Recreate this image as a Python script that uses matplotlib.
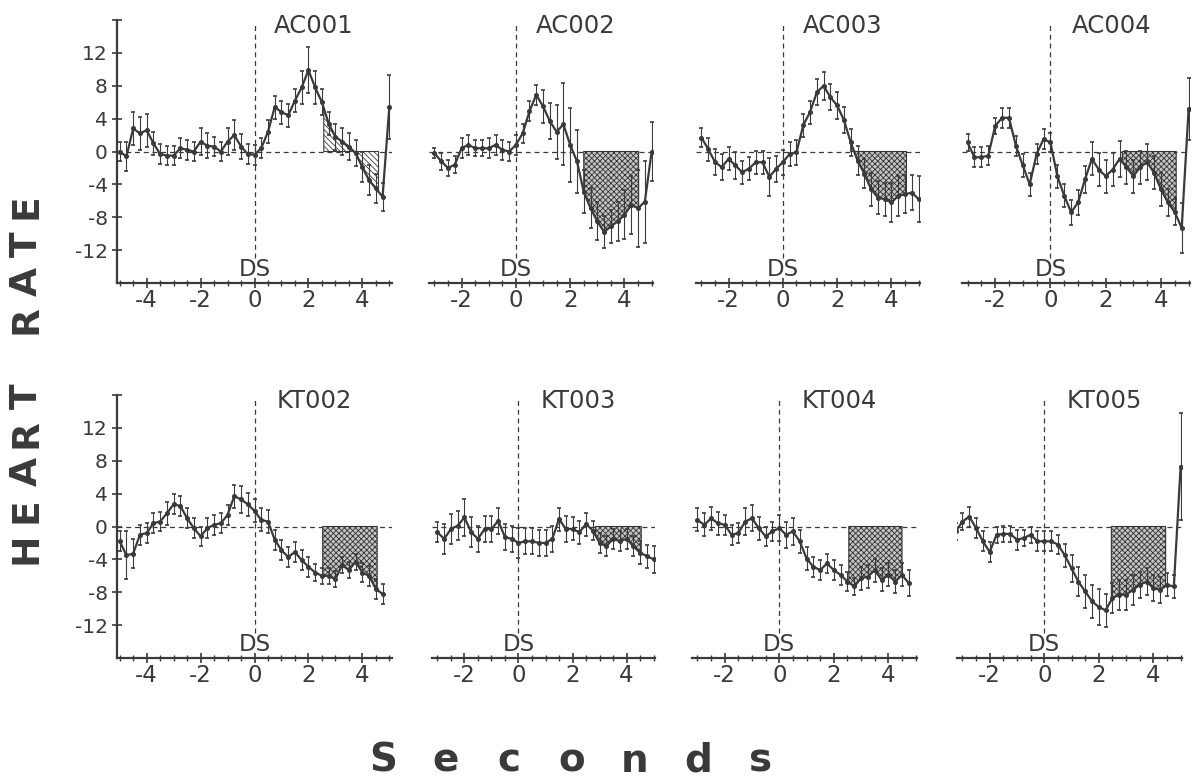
import numpy as np
import matplotlib
matplotlib.use('Agg')
from matplotlib import pyplot as plt
from matplotlib.ticker import MultipleLocator

plt.rcParams['font.family'] = ['DejaVu Sans']
plt.rcParams['hatch.linewidth'] = 0.6

ink = '#3a3a3a'

# panel names, first time point (s), 0.25 s sampling
names = ['AC001', 'AC002', 'AC003', 'AC004', 'KT002', 'KT003', 'KT004', 'KT005']
t_start = [-5.0, -3.0, -3.0, -3.0, -5.0, -3.0, -3.0, -3.25]
step = 0.25

# heart rate change (bpm)
hr_ac001 = [0.0, -0.6, 2.8, 2.2, 2.6, 1.0, -0.3, -0.5, -0.5, 0.4,
            0.2, 0.0, 1.2, 0.7, 0.6, 0.0, 1.2, 2.0, 0.6, -0.3,
            -0.4, 0.4, 2.4, 5.4, 4.8, 4.4, 6.2, 7.8, 9.9, 7.8,
            6.0, 3.4, 1.8, 1.2, 0.6, -0.2, -1.9, -3.5, -4.5, -5.5, 5.4]
hr_ac002 = [-0.2, -1.2, -2.0, -1.6, 0.4, 0.8, 0.4, 0.4, 0.4, 0.8,
            0.2, 0.0, 0.8, 2.2, 4.9, 6.9, 5.5, 3.7, 2.4, 3.3,
            0.8, -1.2, -4.9, -6.9, -8.5, -9.8, -9.1, -8.5, -7.7, -6.5,
            -6.9, -6.1, 0.0]
hr_ac003 = [1.7, 0.3, -1.3, -1.9, -0.9, -1.7, -2.5, -2.1, -1.3, -1.3,
            -3.1, -2.1, -1.3, -0.3, -0.1, 3.2, 4.8, 7.2, 8.0, 6.6,
            5.6, 3.8, 1.1, -1.1, -2.7, -4.6, -5.6, -5.8, -6.2, -5.4,
            -5.2, -5.0, -5.8]
hr_ac004 = [1.1, -0.7, -0.7, -0.5, 3.1, 4.1, 4.1, 0.7, -1.7, -4.0,
            -0.3, 1.5, 1.1, -3.0, -5.4, -7.4, -6.2, -3.4, -0.9, -2.2,
            -3.0, -2.2, -0.9, -1.9, -3.0, -1.9, -1.3, -2.6, -4.6, -6.2,
            -7.4, -9.3, 5.2]
hr_kt002 = [-1.8, -3.5, -3.3, -1.0, -0.8, 0.4, 0.6, 1.6, 2.7, 2.5,
            1.0, -0.2, -1.2, -0.2, 0.2, 0.4, 1.4, 3.7, 3.3, 2.7,
            1.9, 0.8, 0.6, -1.6, -2.9, -3.7, -3.1, -4.1, -4.9, -5.6,
            -6.0, -6.0, -6.4, -4.7, -5.3, -4.3, -5.6, -6.0, -7.6, -8.2]
hr_kt003 = [-0.7, -1.5, -0.3, 0.1, 1.1, -0.7, -1.5, -0.3, -0.3, 0.7,
            -1.3, -1.5, -2.0, -1.8, -1.8, -2.0, -2.0, -1.5, 0.9, -0.3,
            -0.3, -0.7, 0.3, -0.5, -2.0, -2.4, -1.5, -1.8, -1.5, -2.4,
            -3.2, -3.6, -4.0]
hr_kt004 = [0.8, 0.2, 1.0, 0.4, 0.2, -1.0, -0.8, 0.6, 1.0, -0.2,
            -1.2, -0.6, -0.2, -1.0, -0.6, -1.8, -3.9, -4.9, -5.3, -4.5,
            -5.3, -5.9, -6.7, -7.3, -6.3, -6.1, -5.3, -6.5, -5.9, -6.7,
            -5.9, -6.9]
hr_kt005 = [-0.6, 0.6, 1.2, -0.2, -1.8, -3.1, -1.0, -0.9, -0.9, -1.6,
            -1.4, -1.0, -1.8, -1.8, -1.8, -2.2, -3.5, -5.1, -6.7, -7.9,
            -9.1, -9.8, -10.2, -8.7, -8.3, -8.3, -7.7, -7.1, -6.7, -7.5,
            -7.7, -7.1, -7.3, 7.3]

# error bar half-lengths
err_ac001 = [1.2, 1.8, 2.0, 2.0, 2.0, 1.4, 1.2, 1.2, 1.2, 1.2,
             1.2, 1.2, 1.6, 1.5, 1.2, 1.2, 1.6, 1.8, 1.5, 1.2,
             1.2, 1.2, 1.4, 1.4, 1.4, 1.4, 1.4, 2.0, 2.8, 2.0,
             1.6, 1.4, 1.6, 1.6, 1.6, 1.6, 1.8, 1.8, 1.8, 1.7, 3.9]
err_ac002 = [0.6, 1.0, 1.0, 1.0, 1.2, 1.2, 1.0, 1.0, 1.2, 1.2,
             1.2, 1.2, 1.2, 1.2, 1.2, 1.2, 2.0, 2.2, 3.3, 5.0,
             4.5, 3.8, 2.6, 2.4, 2.3, 2.0, 2.0, 2.4, 3.0, 3.5,
             4.7, 5.0, 3.6]
err_ac003 = [1.2, 1.4, 1.6, 1.6, 1.4, 1.6, 1.4, 1.4, 1.4, 1.4,
             2.3, 1.6, 1.5, 1.5, 1.5, 1.4, 1.4, 1.6, 1.7, 1.6,
             1.6, 1.6, 1.6, 1.8, 1.8, 2.0, 2.0, 2.0, 2.4, 2.4,
             2.3, 2.1, 2.8]
err_ac004 = [1.0, 1.2, 1.2, 1.2, 1.0, 1.2, 1.2, 1.2, 1.4, 1.4,
             1.2, 1.2, 1.2, 1.4, 1.4, 1.5, 1.5, 1.6, 2.0, 2.0,
             2.0, 2.0, 2.2, 2.0, 2.0, 2.0, 2.2, 2.0, 2.0, 1.6,
             1.6, 3.0, 3.8]
err_kt002 = [1.2, 2.9, 1.8, 1.2, 1.2, 1.2, 1.2, 1.4, 1.2, 1.2,
             1.2, 1.2, 1.2, 1.2, 1.2, 1.2, 1.2, 1.4, 1.6, 1.4,
             1.4, 1.4, 1.4, 1.2, 1.2, 1.2, 1.2, 1.2, 1.2, 1.0,
             1.0, 1.0, 1.0, 1.0, 1.0, 1.0, 1.2, 1.2, 1.2, 1.2]
err_kt003 = [1.2, 1.8, 1.8, 1.8, 2.2, 1.8, 1.6, 1.6, 1.6, 1.6,
             1.6, 1.6, 1.8, 1.6, 1.6, 1.6, 1.6, 1.6, 1.4, 1.6,
             1.4, 1.4, 1.4, 1.2, 1.2, 1.2, 1.2, 1.2, 1.2, 1.2,
             1.4, 1.4, 1.6]
err_kt004 = [1.4, 1.4, 1.4, 1.4, 1.2, 1.2, 1.2, 1.6, 1.6, 1.4,
             1.2, 1.2, 1.6, 1.6, 1.6, 1.4, 1.4, 1.2, 1.2, 1.2,
             1.2, 1.2, 1.2, 1.0, 1.4, 1.4, 1.4, 1.4, 1.4, 1.4,
             1.4, 1.6]
err_kt005 = [1.0, 1.0, 1.2, 1.2, 1.2, 1.2, 1.0, 1.0, 1.0, 1.2,
             1.0, 1.0, 1.2, 1.2, 1.2, 1.2, 1.4, 1.6, 1.8, 2.0,
             2.0, 2.2, 2.0, 1.8, 1.8, 1.8, 1.8, 1.6, 1.6, 1.6,
             1.6, 1.4, 1.4, 6.5]

hr_all = [hr_ac001, hr_ac002, hr_ac003, hr_ac004, hr_kt002, hr_kt003, hr_kt004, hr_kt005]
err_all = [err_ac001, err_ac002, err_ac003, err_ac004, err_kt002, err_kt003, err_kt004, err_kt005]

# shaded analysis window (s)
shade_lo = [2.57, 2.5, 2.5, 2.6, 2.53, 2.85, 2.55, 2.46]
shade_hi = [4.6, 4.52, 4.55, 4.55, 4.55, 4.54, 4.5, 4.45]

xticks_full = [-4, -2, 0, 2, 4]
xlabels_full = ['-4', '-2', '0', '2', '4']
xticks_short = [-2, 0, 2, 4]
xlabels_short = ['-2', '0', '2', '4']
yticks = [-12, -8, -4, 0, 4, 8, 12, 16]
yticklabels = ['-12', '-8', '-4', '0', '4', '8', '12', '']

W, H = 1196, 784
fig = plt.figure(figsize=(W / 100, H / 100), dpi=100)

# axes boxes in pixels: left, right, bottom (from top)
boxes = [(117, 392, 283), (429, 653, 283), (696, 920, 283), (962, 1190, 283),
         (117, 392, 658), (432, 655, 658), (692, 917, 658), (957, 1182, 658)]
ax_h = 263

for i, name in enumerate(names):
    l, r, b = boxes[i]
    ax = fig.add_axes([l / W, 1 - b / H, (r - l) / W, ax_h / H])
    vals = np.array(hr_all[i])
    errs = np.array(err_all[i])
    t = t_start[i] + step * np.arange(len(vals))
    first = (i % 4 == 0)

    # shaded area between curve and baseline
    lo, hi = shade_lo[i], shade_hi[i]
    xs = np.concatenate([[lo], t[(t > lo) & (t < hi)], [hi]])
    ys = np.interp(xs, t, vals)
    if i == 0:
        ax.fill_between(xs, ys, 0, facecolor='white', edgecolor=ink,
                        hatch='\\\\\\\\\\\\', linewidth=0.8, zorder=1)
    else:
        ax.fill_between(xs, ys, 0, facecolor='#c4c4c4', edgecolor='#333333',
                        hatch='xxxxxx', linewidth=0.8, zorder=1)

    ax.axhline(0, color=ink, lw=0.9, ls=(0, (4, 3)), zorder=0)
    ax.vlines(0, -13, 15.6, color=ink, lw=0.9, linestyles=(0, (4, 3)), zorder=0)

    ax.errorbar(t, vals, yerr=errs, fmt='-o', color=ink, ms=2.6, lw=1.6,
                elinewidth=0.8, capsize=1.5, capthick=1.2, zorder=3)

    ax.text(2.2, 15.3, name, ha='center', va='center', fontsize=17.5, color=ink)
    ax.text(0, -14.3, 'DS', ha='center', va='center', fontsize=16.5, color=ink)

    for s in ['top', 'right']:
        ax.spines[s].set_visible(False)
    ax.spines['bottom'].set_linewidth(1.6)
    ax.spines['bottom'].set_color(ink)
    if first:
        ax.set_xticks(xticks_full)
        ax.set_xticklabels(xlabels_full)
    else:
        ax.set_xticks(xticks_short)
        ax.set_xticklabels(xlabels_short)
    ax.xaxis.set_minor_locator(MultipleLocator(0.5))
    ax.tick_params(axis='x', which='major', direction='inout', length=7,
                   width=1.2, colors=ink, labelsize=16.5, pad=1)
    ax.tick_params(axis='x', which='minor', direction='inout', length=5,
                   width=1.0, colors=ink)
    if first:
        ax.spines['left'].set_linewidth(1.6)
        ax.spines['left'].set_color(ink)
        ax.set_yticks(yticks)
        ax.set_yticklabels(yticklabels)
        ax.tick_params(axis='y', direction='inout', length=7, width=1.2,
                       colors=ink, labelsize=14.5, pad=3)
    else:
        ax.spines['left'].set_visible(False)
        ax.set_yticks([])

    if first:
        ax.set_xlim(-5.1, 5.1)
    else:
        ax.set_xlim(-3.2, 5.05)
    ax.set_ylim(-16, 16)
    ax.patch.set_alpha(0)

# big axis labels drawn letter by letter to get the wide spacing
for k, ch in enumerate('HEART RATE'):
    fig.text(27 / W, 1 - (548 - 38 * k) / H, ch, rotation=90, ha='center',
             va='center', fontsize=27, fontweight='bold', color=ink)
for k, ch in enumerate('Seconds'):
    fig.text((383 + 63 * k) / W, 1 - 772 / H, ch, ha='center', va='baseline',
             fontsize=28, fontweight='bold', color=ink)

fig.savefig('out.png', dpi=100, facecolor='white')
